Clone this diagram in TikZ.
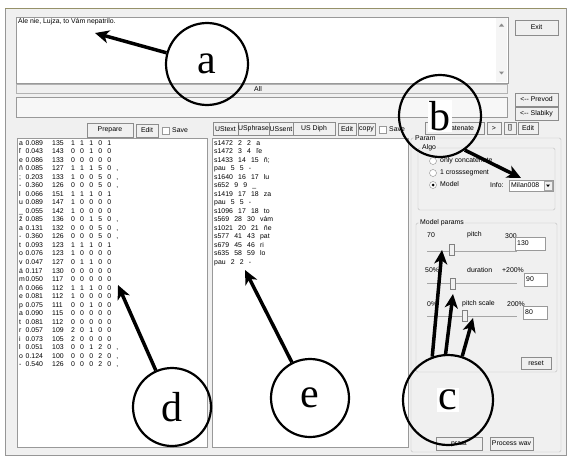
\documentclass[tikz,border=0pt]{standalone}
\usepackage{fontspec}
\setmainfont{Liberation Sans}
\newfontfamily\tagfont{Liberation Serif}
\usetikzlibrary{arrows.meta}

\definecolor{guibg}{RGB}{240,240,240}
\definecolor{frameline}{RGB}{150,150,150}
\definecolor{topline}{RGB}{150,145,105}

\tikzset{
  gui/.style={font=\fontsize{6.9}{8.5}\selectfont},
  cell/.style={gui,anchor=west,inner sep=0pt,text height=5pt,text depth=1.5pt},
  btn/.style={gui,draw=black!45,fill=guibg,inner sep=0pt},
  field/.style={draw=black!40,fill=white},
  group/.style={draw=black!25,rounded corners=1.5pt},
  grouplabel/.style={gui,fill=guibg,inner sep=1pt,anchor=west},
  thumb/.style={draw=black!50,fill=guibg,minimum width=5pt,minimum height=11pt,inner sep=0pt},
  track/.style={draw=black!35,line width=0.8pt},
  tag/.style={circle,draw,line width=2.2pt,minimum size=82pt,inner sep=0pt,
    font=\tagfont\fontsize{42}{42}\selectfont},
  pointer/.style={line width=3.5pt,-{Stealth[length=14pt,width=13pt,inset=4pt]}},
}

\begin{document}
\begin{tikzpicture}[x=1pt,y=-1pt]

\useasboundingbox (0,0) rectangle (569,455);
\fill[white] (0,0) rectangle (569,455);
\draw[fill=guibg,draw=frameline] (5,8) rectangle (566,455);
\draw[topline,line width=1pt] (5,8) -- (566,8);

\draw[field] (16,17) rectangle (508,83);
\fill[black!4] (496,18) rectangle (507,82);
\fill[black!45] (499,26.5) -- (504,26.5) -- (501.5,23.5) -- cycle;
\fill[black!45] (499,71.5) -- (504,71.5) -- (501.5,74.5) -- cycle;
\node (sentence) at (18,22) [cell] {Ale nie, Lujza, to Vám nepatrilo.};

\draw[draw=black!30,fill=black!6] (16,84) rectangle (507,93);
\node (all) at (258,88.5) [gui,inner sep=0pt] {All};
\draw[field,fill=black!3] (16,97) rectangle (507,117);

\node (exit) at (536.5,27.5) [btn,minimum width=43pt,minimum height=15pt] {Exit};
\node (prevod) at (536.5,99.5) [btn,minimum width=43pt,minimum height=13pt] {<-{}- Prevod};
\node (slabiky) at (536.5,113.5) [btn,minimum width=43pt,minimum height=13pt] {<-{}- Slabiky};

\node (prepare) at (110,130) [btn,minimum width=46pt,minimum height=14pt] {Prepare};
\node (editl) at (147,130.5) [btn,minimum width=22pt,minimum height=13pt] {Edit};
\draw[field] (162,127) rectangle (169,134);
\node (savel) at (172,130.5) [cell] {Save};

\node (ustext) at (225.5,129) [btn,minimum width=25pt,minimum height=13pt] {UStext};
\node (usphrase) at (253.5,129) [btn,minimum width=31pt,minimum height=13pt] {USphrase};
\node (ussent) at (281,129) [btn,minimum width=24pt,minimum height=13pt] {USsent};
\node (usdiph) at (314,129) [btn,minimum width=42pt,minimum height=13pt] {US Diph};
\node (editm) at (347,129.5) [btn,minimum width=18pt,minimum height=12pt] {Edit};
\node (copy) at (366.5,129.5) [btn,minimum width=17pt,minimum height=12pt] {copy};
\draw[field] (379,126) rectangle (386,133);
\node (savem) at (389,129.5) [cell] {Save};
\node (concat) at (454.5,128) [btn,minimum width=59pt,minimum height=12pt] {Concatenate};
\node (next) at (494,128) [btn,minimum width=14pt,minimum height=12pt] {>};
\node (clear) at (510,128) [btn,minimum width=12pt,minimum height=12pt] {[]};
\node (editr) at (528,128) [btn,minimum width=20pt,minimum height=12pt] {Edit};

\draw[field] (17,138) rectangle (207,447);
\draw[field] (212,138) rectangle (408,447);

\foreach \ph/\dur/\fz/\fl [count=\i] in {
  a/0.089/135/{1 1 1 0 1},
  ľ/0.043/143/{0 0 1 0 0},
  e/0.086/133/{0 0 0 0 0},
  ň/0.085/127/{1 1 1 5 0 ,},
  ;/0.203/133/{1 0 0 5 0 ,},
  -/0.360/126/{0 0 0 5 0 ,},
  l/0.066/151/{1 1 1 0 1},
  u/0.089/147/{1 0 0 0 0},
  \_/0.055/142/{1 0 0 0 0},
  ž/0.085/136/{0 0 1 5 0 ,},
  a/0.131/132/{0 0 0 5 0 ,},
  -/0.360/126/{0 0 0 5 0 ,},
  t/0.093/123/{1 1 1 0 1},
  o/0.076/123/{1 0 0 0 0},
  v/0.047/127/{0 1 1 0 0},
  á/0.117/130/{0 0 0 0 0},
  m/0.050/117/{0 0 0 0 0},
  ň/0.066/112/{1 1 1 0 0},
  e/0.081/112/{1 0 0 0 0},
  p/0.075/111/{0 0 1 0 0},
  a/0.090/115/{0 0 0 0 0},
  t/0.081/112/{0 0 0 0 0},
  r/0.057/109/{2 0 1 0 0},
  i/0.073/105/{2 0 0 0 0},
  l/0.051/103/{0 0 1 2 0 ,},
  o/0.124/100/{0 0 0 2 0 ,},
  -/0.540/126/{0 0 0 2 0 ,}}
{
  \node (ph\i) at (19,{134.8+8.53*\i}) [cell] {\ph};
  \node (du\i) at (25.5,{134.8+8.53*\i}) [cell] {\dur};
  \node (fz\i) at (52,{134.8+8.53*\i}) [cell] {\fz};
  \node (fl\i) at (71,{134.8+8.53*\i}) [cell] {\spaceskip=5.2pt\relax\ignorespaces\fl};
}

\foreach \unit [count=\i] in {
  s1472 2 2 a,
  s1472 3 4 ľe,
  s1433 14 15 ň;,
  pau 5 5 -,
  s1640 16 17 lu,
  s652 9 9 \_,
  s1419 17 18 za,
  pau 5 5 -,
  s1096 17 18 to,
  s569 28 30 vám,
  s1021 20 21 ňe,
  s577 41 43 pat,
  s679 45 46 ri,
  s635 58 59 lo,
  pau 2 2 -}
{
  \node (un\i) at (214,{134.8+8.53*\i}) [cell] {\spaceskip=5.2pt\relax\ignorespaces\unit};
}

\draw[group] (411,138) rectangle (561,452);
\node (param) at (414,138) [grouplabel] {Param};
\draw[group] (418,148) rectangle (555,210);
\node (algo) at (421,148) [grouplabel] {Algo};
\foreach \opt/\yy [count=\i] in {only concatenate/161,1 crosssegment/173,Model/185}
{
  \draw[draw=black!45,fill=white] (433,\yy) circle (3.5pt);
  \node (opt\i) at (440,\yy) [cell] {\opt};
}
\fill (433,185) circle (1.5pt);
\node (info) at (490,185.5) [cell] {Info:};
\draw[field] (509,180) rectangle (553,191);
\node (model) at (511,185.5) [cell] {Milan008};
\draw[draw=black!35,fill=guibg] (544,181) rectangle (552,190);
\fill (546,184.5) -- (550,184.5) -- (548,187) -- cycle;

\draw[group] (416,223) rectangle (557,372);
\node (mparams) at (419,223) [grouplabel] {Model params};

\node (pmin) at (427,236) [cell] {70};
\node (plabel) at (467,235) [cell] {pitch};
\node (pmax) at (505,237) [cell] {300};
\draw[field] (515,237) rectangle (545,250);
\node (pval) at (517,243.5) [cell] {130};
\draw[track] (427,251) -- (517,251);
\node (pthumb) at (452,250) [thumb] {};

\node (dmin) at (425,271) [cell] {50\%};
\node (dlabel) at (467,271) [cell] {duration};
\node (dmax) at (502,271) [cell] {+200\%};
\draw[field] (524,273) rectangle (547,286);
\node (dval) at (526,279.5) [cell] {90};
\draw[track] (427,283) -- (517,283);
\node (dthumb) at (453,284) [thumb] {};

\node (smin) at (427,305) [cell] {0\%};
\node (slabel) at (462,304) [cell] {pitch scale};
\node (smax) at (507,305) [cell] {200\%};
\draw[field] (523,306) rectangle (547,319);
\node (sval) at (525,312.5) [cell] {80};
\draw[track] (427,316) -- (517,316);
\node (sthumb) at (465,316) [thumb] {};

\node (reset) at (536,363) [btn,minimum width=30pt,minimum height=12pt] {reset};
\node (praat) at (459,443.5) [btn,minimum width=46pt,minimum height=13pt] {praat};
\node (wav) at (511.5,443.5) [btn,minimum width=43pt,minimum height=13pt] {Process wav};

\node[tag] (a) at (207,64) {a};
\node[tag] (b) at (440,116) {\fboxsep=1.5pt\colorbox{white}{b}};
\node[tag,minimum size=90pt] (c) at (448,400) {\fboxsep=1.5pt\colorbox{white}{c}};
\node[tag,minimum size=78pt] (d) at (172,407) {d};
\node[tag,minimum size=78pt] (e) at (310,398) {e};

\coordinate (atip) at (95,33);
\coordinate (btip) at (521,178);
\coordinate (ctip1) at (442,250);
\coordinate (ctip2) at (453,294);
\coordinate (ctip3) at (473,318);
\coordinate (dtip) at (118,285);
\coordinate (etip) at (245,270);

\draw[pointer] (a) -- (atip);
\draw[pointer] (b.-54) -- (btip);
\draw[pointer] (c.110) -- (ctip1);
\draw[pointer] (c.93) -- (ctip2);
\draw[pointer] (c.72) -- (ctip3);
\draw[pointer] (d) -- (dtip);
\draw[pointer] (e) -- (etip);

\end{tikzpicture}
\end{document}
